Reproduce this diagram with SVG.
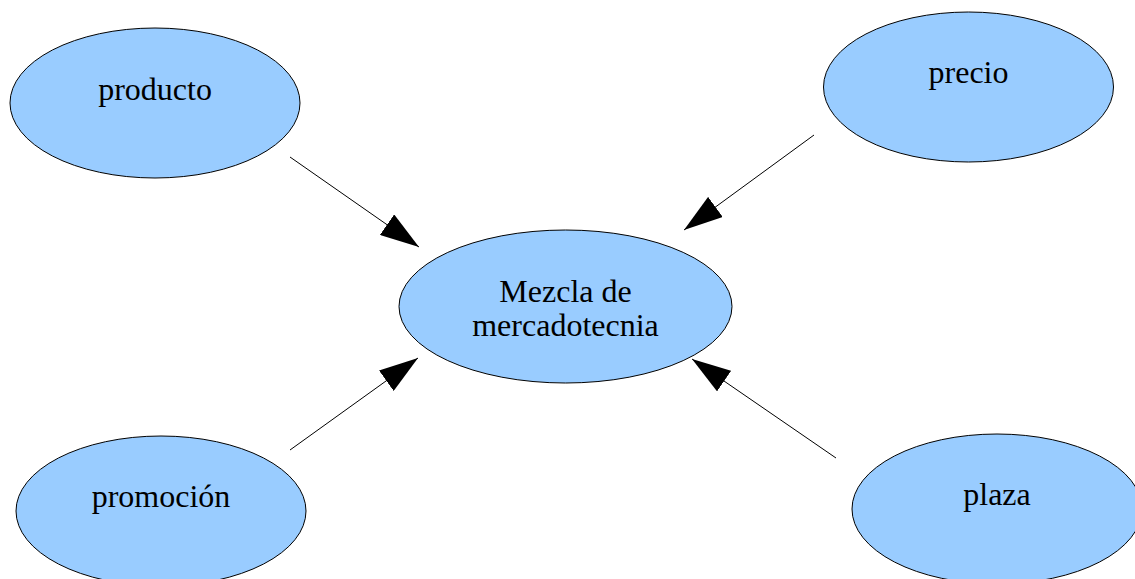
<svg xmlns="http://www.w3.org/2000/svg" width="1135" height="579" viewBox="0 0 1135 579">
<style>
.node ellipse{fill:#99ccff;stroke:#000;stroke-width:1}
.node text{font-family:"Liberation Serif","Times New Roman",serif;font-size:32px;fill:#000;text-anchor:middle}
.conn line{stroke:#000;stroke-width:1;fill:none;marker-end:url(#arr)}
</style>
<defs>
<marker id="arr" viewBox="0 0 39 25" refX="39" refY="12.5" markerWidth="39" markerHeight="25" markerUnits="userSpaceOnUse" orient="auto">
<path d="M0,0 L39,12.5 L0,25 z" fill="#000"/>
</marker>
</defs>
<rect width="1135" height="579" fill="#fff"/>
<g id="connectors" class="conn">
<line x1="290" y1="157" x2="419" y2="247"/>
<line x1="814" y1="135" x2="684" y2="230"/>
<line x1="290" y1="450" x2="418" y2="358"/>
<line x1="836" y1="458" x2="692" y2="359"/>
</g>
<g id="producto" class="node">
<ellipse cx="155" cy="103" rx="145" ry="75"/>
<text x="155" y="100">producto</text>
</g>
<g id="precio" class="node">
<ellipse cx="968.5" cy="87" rx="145" ry="75"/>
<text x="968.5" y="83">precio</text>
</g>
<g id="mezcla" class="node">
<ellipse cx="565.5" cy="306.5" rx="166.5" ry="76.5"/>
<text x="565.5" y="302">Mezcla de</text>
<text x="565.5" y="336">mercadotecnia</text>
</g>
<g id="promocion" class="node">
<ellipse cx="161" cy="511" rx="145" ry="75"/>
<text x="161" y="507">promoción</text>
</g>
<g id="plaza" class="node">
<ellipse cx="997" cy="509" rx="145" ry="75"/>
<text x="997" y="505">plaza</text>
</g>
</svg>
